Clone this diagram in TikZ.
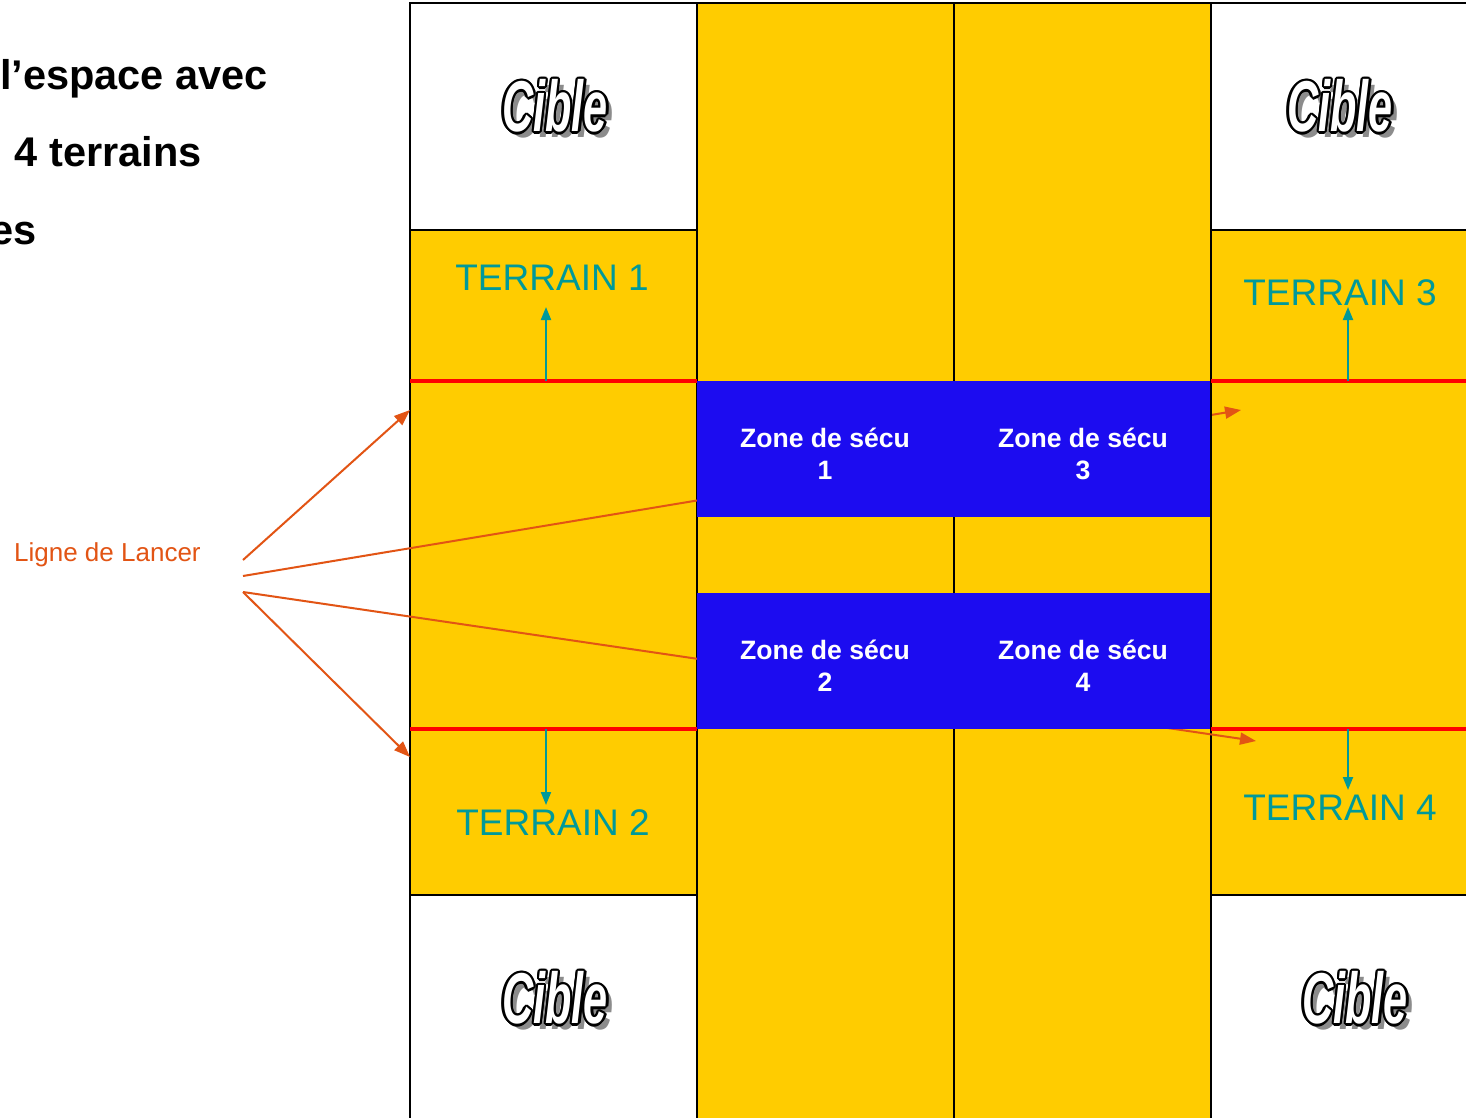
\documentclass[tikz,border=0pt]{standalone}
\usepackage{fontspec}
\setmainfont{Liberation Sans}
\usetikzlibrary{arrows.meta}
\definecolor{gold}{RGB}{255,204,0}
\definecolor{zblue}{RGB}{28,12,240}
\definecolor{lred}{RGB}{255,0,0}
\definecolor{tealc}{RGB}{0,153,153}
\definecolor{orng}{RGB}{226,84,20}
\newcommand\cibletxt{\scalebox{0.6}[1]{\fontsize{72}{72}\selectfont\bfseries\itshape Cible}}
\begin{document}
\begin{tikzpicture}[x=1pt,y=-1pt,
  cell/.style={draw=black,line width=1.5pt},
  redline/.style={draw=lred,line width=4.5pt},
  tarrow/.style={draw=tealc,line width=2pt,-{Triangle[length=13pt,width=10pt]}},
  oarrow/.style={draw=orng,line width=2pt,-{Triangle[length=16pt,width=12pt]}},
  terrain/.style={text=tealc,font=\fontsize{37}{44}\selectfont,inner sep=0pt},
  zone/.style={text=white,font=\fontsize{26.6}{32}\selectfont\bfseries,align=center,inner sep=0pt},
  title/.style={font=\fontsize{41.5}{48}\selectfont\bfseries,inner sep=0pt,anchor=base east},
  cible/.pic={
    \node[text=black!45] at (6,6) {\cibletxt};
    \foreach \a in {0,30,...,330}
      \node[text=black] at ({2.3*cos(\a)},{2.3*sin(\a)}) {\cibletxt};
    \node[text=white] at (0,0) {\cibletxt};
  }]
\useasboundingbox (0,0) rectangle (1466,1118);
\clip (0,0) rectangle (1466,1118);
\fill[white] (0,0) rectangle (1466,1118);
% left column
\path[cell,fill=white] (410,3) rectangle (697,230);
\path[cell,fill=gold] (410,230) rectangle (697,895);
\path[cell,fill=white] (410,895) rectangle (697,1130);
% middle columns
\path[cell,fill=gold] (697,3) rectangle (954,1130);
\path[cell,fill=gold] (954,3) rectangle (1211,1130);
% right column
\path[cell,fill=white] (1211,3) rectangle (1480,230);
\path[cell,fill=gold] (1211,230) rectangle (1480,895);
\path[cell,fill=white] (1211,895) rectangle (1480,1130);
% launch-line label and connectors
\node[text=orng,font=\fontsize{26}{30}\selectfont,anchor=base west,inner sep=0pt] (lancer) at (14,561) {Ligne de Lancer};
\coordinate (s1) at (243,560);
\coordinate (s2) at (243,576);
\coordinate (s3) at (243,592);
\coordinate (e1) at (410,410);
\coordinate (e2) at (1241,410);
\coordinate (e3) at (1256,741);
\coordinate (e4) at (410,757);
\draw[oarrow] (s1) -- (e1);
\draw[oarrow] (s2) -- (e2);
\draw[oarrow] (s3) -- (e3);
\draw[oarrow] (s3) -- (e4);
% security zones
\fill[zblue] (697,381) rectangle (1211,517);
\fill[zblue] (697,593) rectangle (1211,729);
\draw[black,line width=1.5pt] (1211,381) -- (1211,729);
\node[zone] (z1) at (825,454) {Zone de sécu\\1};
\node[zone] (z3) at (1083,454) {Zone de sécu\\3};
\node[zone] (z2) at (825,666) {Zone de sécu\\2};
\node[zone] (z4) at (1083,666) {Zone de sécu\\4};
% red throw lines
\draw[redline] (410,381) -- (697,381);
\draw[redline] (1211,381) -- (1480,381);
\draw[redline] (410,729) -- (697,729);
\draw[redline] (1211,729) -- (1480,729);
% terrain labels
\node[terrain] (t1) at (552,278) {TERRAIN 1};
\node[terrain] (t2) at (553,823) {TERRAIN 2};
\node[terrain] (t3) at (1340,293) {TERRAIN 3};
\node[terrain] (t4) at (1340,808) {TERRAIN 4};
\coordinate (a1) at (546,381); \coordinate (b1) at (546,307);
\coordinate (a2) at (546,729); \coordinate (b2) at (546,805);
\coordinate (a3) at (1348,381); \coordinate (b3) at (1348,307);
\coordinate (a4) at (1348,729); \coordinate (b4) at (1348,790);
\draw[tarrow] (a1) -- (b1);
\draw[tarrow] (a2) -- (b2);
\draw[tarrow] (a3) -- (b3);
\draw[tarrow] (a4) -- (b4);
% targets
\pic (c1) at (555,106) {cible};
\pic (c2) at (1340,106) {cible};
\pic (c3) at (555,998) {cible};
\pic (c4) at (1355,998) {cible};
% title fragments
\node[title] (h1) at (268,90) {l’espace avec};
\node[title] (h2) at (202,167) {4 terrains};
\node[title] (h3) at (37,244) {es};
\end{tikzpicture}
\end{document}
